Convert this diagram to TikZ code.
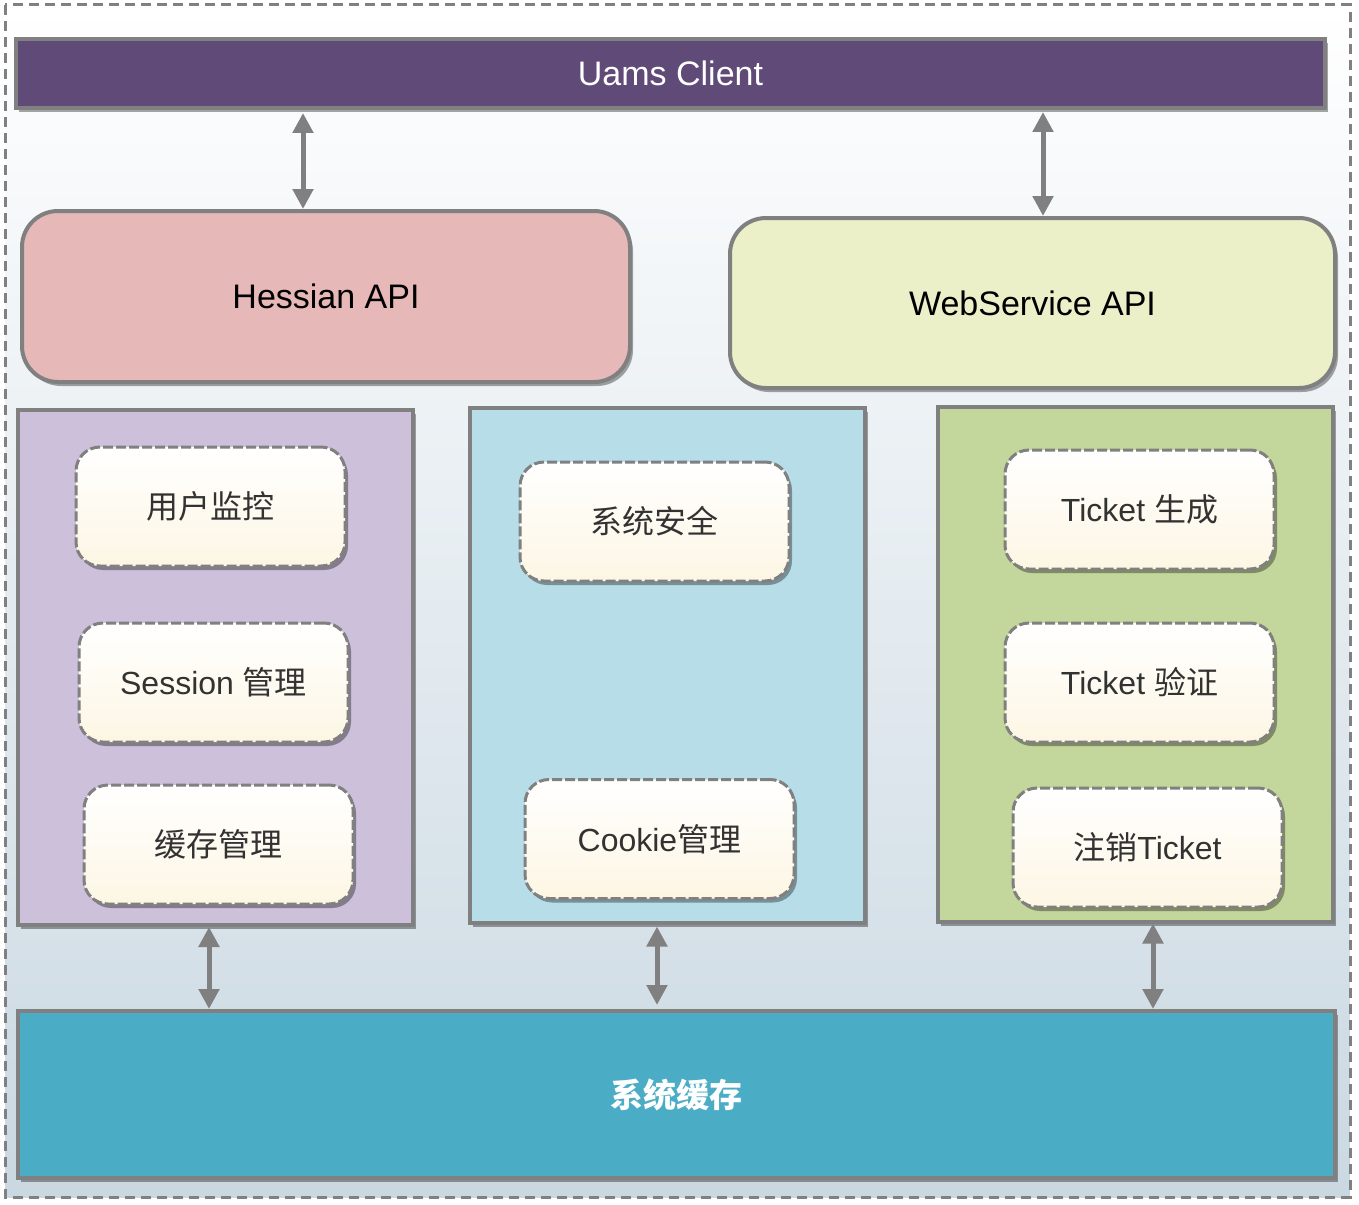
\documentclass[tikz,border=0pt]{standalone}
\usepackage{fontspec}
\setmainfont{Liberation Sans}
\newfontfamily\cjk{Noto Sans CJK SC}
\usepackage{tikz}
\usetikzlibrary{arrows.meta,positioning,shadows}

\definecolor{linegray}{RGB}{128,128,128}
\definecolor{bgblue}{RGB}{202,216,226}
\definecolor{clientpurple}{RGB}{95,74,120}
\definecolor{hessianred}{RGB}{230,184,183}
\definecolor{wsyellow}{RGB}{235,240,200}
\definecolor{lilac}{RGB}{204,192,218}
\definecolor{skyblue}{RGB}{183,222,232}
\definecolor{leafgreen}{RGB}{195,214,155}
\definecolor{cacheblue}{RGB}{75,172,198}
\definecolor{cream}{RGB}{253,246,228}
\definecolor{darktext}{RGB}{50,50,50}

\newcommand{\zh}[1]{{\cjk #1}}

\tikzset{
  boxshadow/.style={drop shadow={shadow xshift=3pt,shadow yshift=-4pt,opacity=0.35,fill=black}},
  barbox/.style={draw=linegray,line width=4pt,inner sep=0pt,boxshadow},
  apibox/.style={barbox,rounded corners=36pt,text=black},
  panel/.style={barbox,minimum width=395pt,minimum height=515pt},
  featbox/.style={draw=linegray,line width=3pt,dash pattern=on 10pt off 3pt,
    rounded corners=24pt,top color=white,bottom color=cream,
    minimum width=269pt,minimum height=119pt,inner sep=0pt,
    text=darktext,font=\fontsize{32}{38}\selectfont,boxshadow},
  link/.style={<->,draw=linegray,line width=5pt},
}

\begin{document}
\begin{tikzpicture}[x=1pt,y=-1pt,font=\fontsize{34}{40}\selectfont,
  >={Triangle[width=20pt,length=20pt]}]
  \useasboundingbox (0,0) rectangle (1359,1204);
  % background frame
  \shade[top color=white,bottom color=bgblue] (5,5) rectangle (1350,1197);
  \draw[linegray,line width=3pt,dash pattern=on 10pt off 6pt] (5,5) rectangle (1350,1197);

  % top and api layers
  \node[barbox,fill=clientpurple,text=white,minimum width=1309pt,minimum height=69pt] (client) at (670.5,73.5) {Uams Client};
  \node[apibox,fill=hessianred,minimum width=608pt,minimum height=171pt] (hessian) at (326,296.5) {Hessian API};
  \node[apibox,fill=wsyellow,minimum width=605pt,minimum height=170pt] (webservice) at (1032.5,303) {WebService API};

  % three panels
  \node[panel,fill=lilac] (userpanel) at (215.5,667.5) {};
  \node[panel,fill=skyblue] (securitypanel) at (667,665) {};
  \node[panel,fill=leafgreen] (ticketpanel) at (1135.5,664) {};

  \node[featbox] (monitor) at (210.5,506.5) {\zh{用户监控}};
  \node[featbox] (session) at (213.5,682.5) {Session \zh{管理}};
  \node[featbox] (cachemgr) at (218.5,844.5) {\zh{缓存管理}};

  \node[featbox] (security) at (654.5,521.5) {\zh{系统安全}};
  \node[featbox] (cookie) at (659.5,839) {Cookie\zh{管理}};

  \node[featbox] (ticketgen) at (1139.5,509.5) {Ticket \zh{生成}};
  \node[featbox] (ticketcheck) at (1139.5,682.5) {Ticket \zh{验证}};
  \node[featbox] (logout) at (1147.5,847.5) {\zh{注销}Ticket};

  % cache layer
  \node[barbox,fill=cacheblue,text=white,minimum width=1317pt,minimum height=167pt,
    font=\fontsize{33}{40}\selectfont\bfseries] (cache) at (676.5,1094.5) {\zh{系统缓存}};

  % links
  \coordinate (ha) at (303,0);
  \coordinate (wa) at (1043,0);
  \coordinate (ua) at (209,0);
  \coordinate (sa) at (657,0);
  \coordinate (ta) at (1153,0);
  \draw[link] ([yshift=-3pt]client.south -| ha) -- (hessian.north -| ha);
  \draw[link] ([yshift=-2pt]client.south -| wa) -- (webservice.north -| wa);
  \draw[link] (userpanel.south -| ua) -- (cache.north -| ua);
  \draw[link] ([yshift=-2pt]securitypanel.south -| sa) -- ([yshift=4pt]cache.north -| sa);
  \draw[link] (ticketpanel.south -| ta) -- (cache.north -| ta);
\end{tikzpicture}
\end{document}
